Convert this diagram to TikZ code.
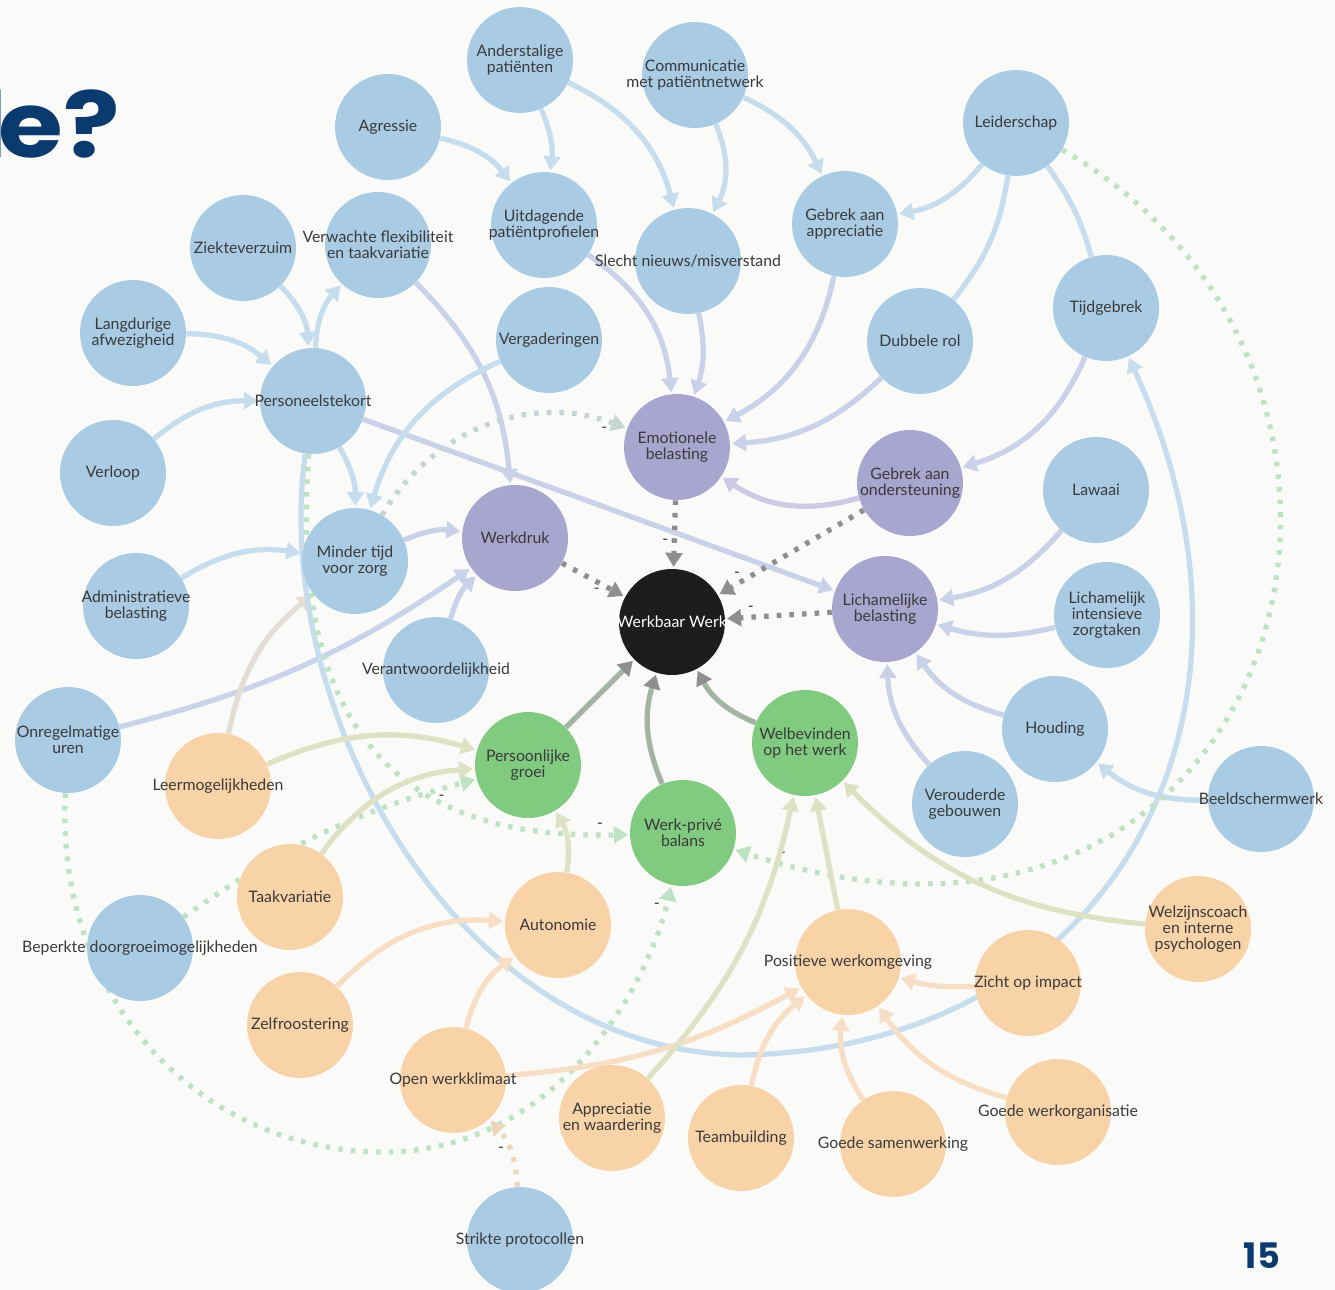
\documentclass[tikz,border=0pt]{standalone}
\usepackage{fontspec}
\setmainfont{Lato}
\newfontfamily\titlefont{Poppins}
\usepackage{xcolor}
\usepackage{tikz}
\usetikzlibrary{calc}
\usetikzlibrary{arrows.meta}
\usetikzlibrary{shapes}
\usetikzlibrary{positioning}
\pgfdeclarelayer{back}
\pgfdeclarelayer{links}
\pgfsetlayers{back,links,main}

\definecolor{bgc}{HTML}{FAFAF8}
\definecolor{cblu}{HTML}{A9CCE4}
\definecolor{cpur}{HTML}{A8A5CE}
\definecolor{cgrn}{HTML}{80CB80}
\definecolor{cora}{HTML}{F9D3A8}
\definecolor{cblk}{HTML}{1D1D1D}
\definecolor{ink}{HTML}{3A3A3A}
\definecolor{navy}{HTML}{0B3A6E}
\definecolor{eblu}{HTML}{C6DDEE}
\definecolor{epur}{HTML}{CDCAE5}
\definecolor{egrn}{HTML}{C4E4C2}
\definecolor{eora}{HTML}{F7DEC4}
\definecolor{egry}{HTML}{8F8F8F}
\definecolor{eww}{HTML}{A4B4A4}
\definecolor{edot}{HTML}{BEE2C4}
\definecolor{estr}{HTML}{EBD6BC}

\tikzset{>={Triangle[length=8pt, width=9.5pt]}}
\tikzset{
  bub/.style = {circle, minimum size = 2.12cm, inner sep = 0pt, draw = none},
  blu/.style = {bub, fill = cblu},
  pur/.style = {bub, fill = cpur},
  grn/.style = {bub, fill = cgrn},
  ora/.style = {bub, fill = cora},
  blk/.style = {bub, fill = cblk},
  lab/.style = {font = \fontsize{9}{9.3}\selectfont, text = ink, align = center, inner sep = 0pt},
  lnk/.style = {->, line width = 3pt, shorten > = 1pt},
  tow/.style = {-{Triangle[length=8pt, width=9.5pt, color=egry]}, line width = 3pt, draw = eww, shorten > = 1pt},
  neg/.style = {->, line width = 3pt, dash pattern = on 2.6pt off 4.6pt, shorten > = 1pt},
  mn/.style = {font = \fontsize{9}{9}\selectfont, text = ink, inner sep = 2pt}
}

\begin{document}
\begin{tikzpicture}[x = 0.02cm, y = 0.02cm]
\begin{pgfonlayer}{back}
\fill [bgc] (0,0) rectangle (1335,-1290);
\end{pgfonlayer}
\useasboundingbox (0,0) rectangle (1335,-1290);

\node [anchor = base east, inner sep = 0pt, text = navy, xscale = 1.15, transform shape, font = \titlefont\bfseries\fontsize{52}{52}\selectfont] (ttl) at (120,-158) {l\kern-4.5pt e?};
\node [text = navy, font = \titlefont\bfseries\fontsize{20}{20}\selectfont] (nr) at (1262,-1256) {15};

% blue
\node [blu, label = {[lab]center:Anderstalige\\patiënten}] (ander) at (520,-60) {};
\node [blu, label = {[lab]center:Communicatie\\met patiëntnetwerk}] (comm) at (695,-75) {};
\node [blu, label = {[lab]center:Agressie}] (agr) at (388,-127) {};
\node [blu, label = {[lab]center:Leiderschap}] (leid) at (1016,-123) {};
\node [blu, label = {[lab]center:Uitdagende\\patiëntprofielen}] (uitd) at (544,-225) {};
\node [blu, label = {[lab]center:Gebrek aan\\appreciatie}] (gapp) at (845,-224) {};
\node [blu, label = {[lab]center:Ziekteverzuim}] (ziek) at (243,-248) {};
\node [blu, label = {[lab]center:Verwachte flexibiliteit\\en taakvariatie}] (vflex) at (378,-245) {};
\node [blu, label = {[lab]center:Slecht nieuws/misverstand}] (slecht) at (688,-261) {};
\node [blu, label = {[lab]center:Langdurige\\afwezigheid}] (lang) at (133,-333) {};
\node [blu, label = {[lab]center:Vergaderingen}] (verg) at (549,-340) {};
\node [blu, label = {[lab]center:Dubbele rol}] (dubb) at (920,-341) {};
\node [blu, label = {[lab]center:Tijdgebrek}] (tijd) at (1106,-308) {};
\node [blu, label = {[lab]center:Personeelstekort}] (pers) at (313,-401) {};
\node [blu, label = {[lab]center:Verloop}] (verl) at (113,-473) {};
\node [blu, label = {[lab]center:Lawaai}] (lawa) at (1096,-490) {};
\node [blu, label = {[lab]center:Minder tijd\\voor zorg}] (mtz) at (355,-561) {};
\node [blu, label = {[lab]center:Administratieve\\belasting}] (adm) at (136,-606) {};
\node [blu, label = {[lab]center:Lichamelijk\\intensieve\\zorgtaken}] (lint) at (1107,-615) {};
\node [blu, label = {[lab]center:Verantwoordelijkheid}] (veran) at (436,-670) {};
\node [blu, label = {[lab]center:Onregelmatige\\uren}] (onr) at (68,-740) {};
\node [blu, label = {[lab]center:Houding}] (houd) at (1055,-729) {};
\node [blu, label = {[lab]center:Verouderde\\gebouwen}] (vgeb) at (965,-804) {};
\node [blu, label = {[lab]center:Beeldschermwerk}] (beeld) at (1261,-799) {};
\node [blu, label = {[lab]center:Beperkte doorgroeimogelijkheden}] (bep) at (140,-948) {};
\node [blu, label = {[lab]center:Strikte protocollen}] (strikt) at (520,-1240) {};
% purple
\node [pur, label = {[lab]center:Emotionele\\belasting}] (emo) at (677,-447) {};
\node [pur, label = {[lab]center:Gebrek aan\\ondersteuning}] (gond) at (910,-483) {};
\node [pur, label = {[lab]center:Werkdruk}] (wdr) at (515,-538) {};
\node [pur, label = {[lab]center:Lichamelijke\\belasting}] (lbel) at (885,-609) {};
% centre
\node [blk, label = {[lab, text = white]center:Werkbaar Werk}] (ww) at (672,-622) {};
% green
\node [grn, label = {[lab]center:Persoonlijke\\groei}] (pgr) at (528,-765) {};
\node [grn, label = {[lab]center:Welbevinden\\op het werk}] (welb) at (805,-743) {};
\node [grn, label = {[lab]center:Werk-privé\\balans}] (wpb) at (683,-833) {};
% orange
\node [ora, label = {[lab]center:Leermogelijkheden}] (leer) at (218,-786) {};
\node [ora, label = {[lab]center:Taakvariatie}] (taak) at (290,-897) {};
\node [ora, label = {[lab]center:Autonomie}] (auto) at (558,-925) {};
\node [ora, label = {[lab]center:Zelfroostering}] (zelf) at (300,-1025) {};
\node [ora, label = {[lab]center:Open werkklimaat}] (open) at (453,-1080) {};
\node [ora, label = {[lab]center:Appreciatie\\en waardering}] (appr) at (612,-1118) {};
\node [ora, label = {[lab]center:Teambuilding}] (team) at (741,-1138) {};
\node [ora, label = {[lab]center:Goede samenwerking}] (gsam) at (893,-1144) {};
\node [ora, label = {[lab]center:Positieve werkomgeving}] (pwo) at (848,-962) {};
\node [ora, label = {[lab]center:Zicht op impact}] (zicht) at (1028,-983) {};
\node [ora, label = {[lab]center:Goede werkorganisatie}] (gwo) at (1058,-1112) {};
\node [ora, label = {[lab]center:Welzijnscoach\\en interne\\psychologen}] (welz) at (1198,-929) {};

\coordinate (low) at (740,-1055);
\coordinate (botl) at (380,-1152);

\begin{pgfonlayer}{links}
% top
\draw [lnk, draw = eblu] (ander) to[bend left = 15] (uitd);
\draw [lnk, draw = eblu] (ander) to[bend left = 25] (slecht);
\draw [lnk, draw = eblu] (agr) to[bend left = 20] (uitd);
\draw [lnk, draw = eblu] (comm) to[bend left = 25] (slecht);
\draw [lnk, draw = eblu] (comm) to[bend left = 20] (gapp);
\draw [lnk, draw = eblu] (leid) to[bend left = 20] (gapp);
\draw [line width = 3pt, draw = eblu] (leid) to[bend left = 15] (dubb);
\draw [line width = 3pt, draw = eblu] (leid) to[bend left = 10] (tijd);
\draw [lnk, draw = eblu!40!epur] (gapp) to[bend left = 25] (emo);
\draw [lnk, draw = eblu!40!epur] (slecht) to[bend left = 15] (emo);
\draw [lnk, draw = eblu!40!epur] (uitd) to[bend left = 25] (emo);
\draw [lnk, draw = eblu!40!epur] (dubb) to[bend left = 20] (emo);
\draw [lnk, draw = epur] (gond) to[bend left = 25] (emo);
\draw [lnk, draw = eblu!40!epur] (tijd) to[bend left = 25] (gond);
% left
\draw [lnk, draw = eblu] (ziek) to[bend left = 20] (pers);
\draw [lnk, draw = eblu] (lang) to[bend left = 20] (pers);
\draw [lnk, draw = eblu] (verl) to[bend left = 20] (pers);
\draw [lnk, draw = eblu] (pers) to[bend left = 20] (vflex);
\draw [lnk, draw = eblu] (pers) to[bend left = 15] (mtz);
\draw [lnk, draw = eblu!40!epur] (pers) -- (lbel);
\draw [lnk, draw = eblu!40!epur] (vflex) to[bend left = 20] (wdr);
\draw [lnk, draw = eblu] (verg) to[bend right = 25] (mtz);
\draw [lnk, draw = eblu!40!epur] (mtz) to[bend left = 15] (wdr);
\draw [lnk, draw = eblu] (adm) to[bend left = 20] (mtz);
\draw [lnk, draw = eblu!50!epur] (onr) to[bend right = 10] (wdr);
\draw [lnk, draw = eblu!40!epur] (veran) to[bend left = 15] (wdr);
\draw [lnk, draw = eora!60!eblu] (leer) to[bend left = 20] (mtz);
\draw [lnk, draw = eblu] (pers) .. controls (270,-700) and (450,-1050) .. (low) .. controls (1110,-1050) and (1295,-720) .. (tijd);
% right
\draw [lnk, draw = eblu!40!epur] (lawa) to[bend left = 20] (lbel);
\draw [lnk, draw = eblu!40!epur] (lint) to[bend left = 15] (lbel);
\draw [lnk, draw = eblu!40!epur] (houd) to[bend left = 20] (lbel);
\draw [lnk, draw = eblu!40!epur] (vgeb) to[bend left = 20] (lbel);
\draw [lnk, draw = eblu] (beeld) to[bend left = 20] (houd);
% negative
\draw [neg, draw = egry] (emo) -- (ww) node [mn, pos = .6, left] {-};
\draw [neg, draw = egry] (wdr) -- (ww) node [mn, pos = .55, below] {-};
\draw [neg, draw = egry] (gond) -- (ww) node [mn, pos = .87, above] {-};
\draw [neg, draw = egry] (lbel) -- (ww) node [mn, pos = .76, above] {-};
\draw [neg, draw = edot!50!epur] (mtz) to[bend left = 40] node [mn, pos = .92, below] {-} (emo);
\draw [neg, draw = edot] (pers) .. controls (285,-760) and (430,-840) .. node [mn, pos = .95, above] {-} (wpb);
\draw [neg, draw = edot] (bep) to[bend left = 10] node [mn, pos = .9, below] {-} (pgr);
\draw [neg, draw = edot] (onr) .. controls (55,-1000) and (200,-1150) .. (botl) .. controls (560,-1154) and (650,-980) .. (wpb) node [mn, pos = .93, left] {-};
\draw [neg, draw = edot] (leid) .. controls (1460,-380) and (1290,-1030) .. node [mn, pos = .97, above] {-} (wpb);
\draw [neg, draw = estr] (strikt) to[bend right = 20] node [mn, pos = .5, left] {-} (open);
% bottom
\draw [lnk, draw = eora!50!egrn] (leer) to[bend left = 20] (pgr);
\draw [lnk, draw = eora!50!egrn] (taak) to[bend left = 25] (pgr);
\draw [lnk, draw = eora] (zelf) to[bend left = 25] (auto);
\draw [lnk, draw = eora] (open) to[bend left = 20] (auto);
\draw [lnk, draw = eora] (open) to[bend right = 12] (pwo);
\draw [lnk, draw = eora!50!egrn] (auto) to[bend right = 20] (pgr);
\draw [lnk, draw = eora!50!egrn] (appr) to[bend right = 15] (welb);
\draw [lnk, draw = eora] (team) to[bend left = 20] (pwo);
\draw [lnk, draw = eora] (gsam) to[bend left = 20] (pwo);
\draw [lnk, draw = eora] (gwo) to[bend left = 20] (pwo);
\draw [lnk, draw = eora] (zicht) to[bend left = 10] (pwo);
\draw [lnk, draw = eora!50!egrn] (pwo) -- (welb);
\draw [lnk, draw = eora!50!egrn] (welz) to[bend left = 20] (welb);
% to centre
\draw [tow] (pgr) -- (ww);
\draw [tow] (wpb) to[bend left = 20] (ww);
\draw [tow] (welb) to[bend left = 20] (ww);
\end{pgfonlayer}
\end{tikzpicture}
\end{document}
